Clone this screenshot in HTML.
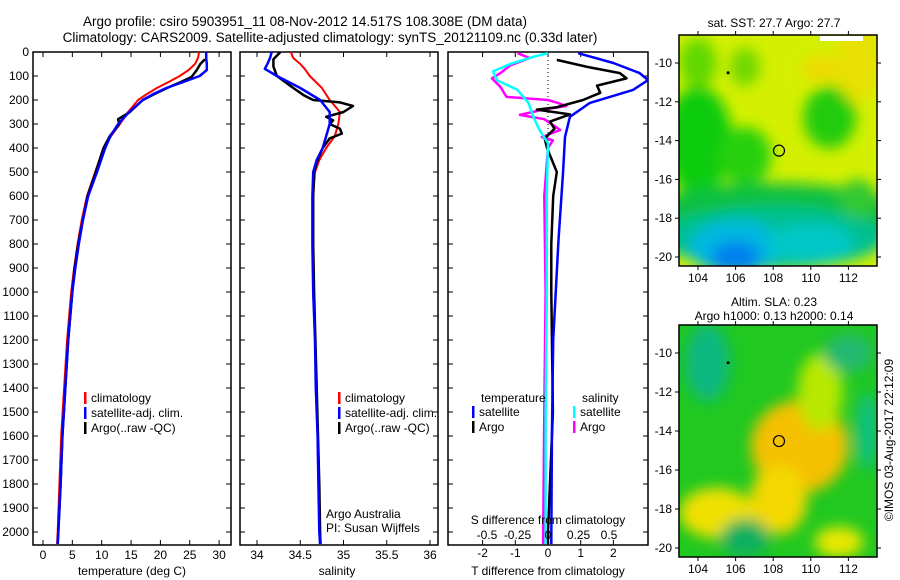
<!DOCTYPE html>
<html><head><meta charset="utf-8">
<style>
html,body{margin:0;padding:0;background:#fff;}
svg{display:block;font-family:"Liberation Sans",sans-serif;}
text{font-size:12px;fill:#000;}
</style></head>
<body>
<svg id="chart" width="900" height="580" viewBox="0 0 900 580">
<defs>
<clipPath id="c1"><rect x="33" y="52" width="198" height="493"/></clipPath>
<clipPath id="c2"><rect x="240" y="52" width="198" height="493"/></clipPath>
<clipPath id="c3"><rect x="448" y="52" width="200" height="493"/></clipPath>
<clipPath id="cm1"><rect x="679" y="35" width="198" height="231"/></clipPath>
<clipPath id="cm2"><rect x="679" y="325" width="198" height="232"/></clipPath>
<filter id="bl" x="-20%" y="-20%" width="140%" height="140%"><feGaussianBlur stdDeviation="7"/></filter>
</defs>
<text x="305" y="26" text-anchor="middle" style="font-size:13.5px">Argo profile: csiro 5903951_11 08-Nov-2012 14.517S 108.308E (DM data)</text>
<text x="330" y="42" text-anchor="middle" style="font-size:13.5px">Climatology: CARS2009. Satellite-adjusted climatology: synTS_20121109.nc (0.33d later)</text>
<g id="g1"></g>
<g id="g2"></g>
<g id="g3"></g>
<g id="m1"></g>
<g id="m2"></g>
<text transform="translate(893,440) rotate(-90)" text-anchor="middle">©IMOS 03-Aug-2017 22:12:09</text>
</svg>
<script>
// ---- data ----
const depthT = [0,25,50,75,100,125,150,175,200,250,300,350,400,500,600,700,800,900,1000,1200,1400,1600,1800,2000,2050];
const tempClim = [26.6,26.4,25.9,24.8,23.3,21.4,19.4,17.7,16.2,14.5,13.1,11.6,10.3,8.9,7.5,6.6,5.9,5.3,4.8,4.1,3.6,3.1,2.8,2.5,2.4];
const tempSat = [27.8,27.8,27.9,27.9,26.7,23.9,21.0,18.8,17.0,14.7,12.8,11.5,10.6,9.2,7.7,6.8,6.1,5.5,5.0,4.3,3.8,3.3,3.0,2.6,2.5];
const depthArgo = [30,50,75,104,125,145,175,200,250,280,300,350,400,500,600,700,800,900,1000,1200,1400,1600,1800,2000,2050];
const tempArgo = [27.6,26.8,26.2,25.3,23.5,21.6,19.0,17.0,14.8,12.8,13.0,11.4,10.3,9.0,7.6,6.8,6.0,5.4,5.0,4.3,3.8,3.3,3.0,2.6,2.5];

const depthS = [0,25,50,70,100,150,200,250,300,350,400,450,500,600,700,800,1000,1200,1400,1600,1800,2000,2050];
const salClim = [34.39,34.42,34.5,34.55,34.61,34.75,34.84,34.96,34.94,34.9,34.8,34.72,34.67,34.65,34.65,34.65,34.65,34.67,34.69,34.7,34.71,34.73,34.74];
const salSat = [34.17,34.15,34.12,34.09,34.23,34.5,34.73,34.84,34.84,34.8,34.76,34.69,34.65,34.64,34.64,34.64,34.65,34.67,34.68,34.7,34.71,34.72,34.73];
const depthSA = [0,30,60,100,150,180,200,210,225,250,270,285,300,320,340,360,400,450,500,600,800,1000,1400,1800,2000,2050];
const salArgo = [34.27,34.19,34.19,34.23,34.42,34.54,34.65,34.96,35.11,35.0,34.8,34.88,34.84,34.96,34.98,34.84,34.76,34.7,34.66,34.65,34.65,34.66,34.69,34.72,34.73,34.73];

const depthD = [5,46,88,117,158,212,270,354,505,783,1200,1604,2050];
const dTsat = [0.92,2.0,2.8,3.06,2.6,1.28,0.67,0.52,0.46,0.32,0.16,0.12,0.1];
const depthDA = [33,62,88,110,140,170,200,230,240,260,290,320,360,400,500,600,800,1000,1500,2000,2050];
const dTargo = [0.27,1.2,2.2,2.4,1.5,1.6,1.07,0.27,-0.34,0.67,0.06,0.2,-0.1,-0.03,0.27,0.16,0.1,0.1,0.15,0.0,0.0];
const depthDS = [5,20,50,81,117,158,212,270,325,380,600,1000,1500,2050];
const dSsat = [0,-0.12,-0.31,-0.45,-0.42,-0.25,-0.16,-0.12,-0.07,0,-0.01,-0.01,-0.02,-0.02];
const depthDSA = [5,25,56,88,110,145,187,200,212,225,240,262,280,325,354,368,400,600,1000,1500,2050];
const dSargo = [-0.25,-0.15,-0.31,-0.39,-0.46,-0.39,-0.34,0,0.08,0.15,-0.04,-0.23,-0.03,0.1,-0.05,0.04,0,-0.03,-0.02,-0.03,-0.04];

const depthTicks = [0,100,200,300,400,500,600,700,800,900,1000,1100,1200,1300,1400,1500,1600,1700,1800,1900,2000];
const tempTicks = [0,5,10,15,20,25,30];
const salTicks = [34,34.5,35,35.5,36];
const salTickLabels = ["34","34.5","35","35.5","36"];
const dtTicks = [-2,-1,0,1,2];
const dsTicks = [-0.5,-0.25,0,0.25,0.5];
const lonTicks = [104,106,108,110,112];
const latTicks = [-10,-12,-14,-16,-18,-20];

// ---- axes ----
const NS="http://www.w3.org/2000/svg";
const yD = d => 52 + 0.24*d;
const xT = t => 43 + 5.87*t;
const xS = s => 257 + 86.5*(s-34);
const xDT = v => 548 + 32.7*v;
const xDS = v => 548 + 122*v;
function el(parent, tag, attrs, txt){const e=document.createElementNS(NS,tag);for(const k in attrs)e.setAttribute(k,attrs[k]);if(txt!==undefined)e.textContent=txt;parent.appendChild(e);return e;}
function line(g, xs, ds, fx, color, w, clip, name){
  const pts = xs.map((v,i)=>fx(v).toFixed(1)+","+yD(ds[i]).toFixed(1)).join(" ");
  const p = el(g,"polyline",{points:pts,fill:"none",stroke:color,"stroke-width":w,"clip-path":"url(#"+clip+")","stroke-linejoin":"round"});
  
  
}
function frame(g,x,w,name){
  const r=el(g,"rect",{x:x,y:52,width:w,height:493,fill:"none",stroke:"#000","stroke-width":1.5});
  
  
}
function vticks(g,xs,fx){xs.forEach(v=>{const x=fx(v);el(g,"line",{x1:x,y1:52,x2:x,y2:57,stroke:"#000"});el(g,"line",{x1:x,y1:545,x2:x,y2:540,stroke:"#000"});});}

const g1=document.getElementById("g1"),g2=document.getElementById("g2"),g3=document.getElementById("g3");
// panel 1
frame(g1,33,198,"temperature-frame");
depthTicks.forEach(d=>{const y=yD(d);el(g1,"line",{x1:33,y1:y,x2:38,y2:y,stroke:"#000"});el(g1,"line",{x1:231,y1:y,x2:226,y2:y,stroke:"#000"});
  const t=el(g1,"text",{x:29,y:y+4,"text-anchor":"end"},String(d));
  
  });
vticks(g1,tempTicks,xT);
tempTicks.forEach(v=>{const t=el(g1,"text",{x:xT(v),y:559,"text-anchor":"middle"},String(v));
  
  });
let t1=el(g1,"text",{x:132,y:575,"text-anchor":"middle"},"temperature (deg C)");


line(g1,tempClim,depthT,xT,"#f00",2,"c1","temperature-climatology-line");
line(g1,tempArgo,depthArgo,xT,"#000",2.5,"c1","temperature-argo-line");
line(g1,tempSat,depthT,xT,"#00f",2.5,"c1","temperature-satellite-line");
// panel 2
frame(g2,240,198,"salinity-frame");
depthTicks.forEach(d=>{const y=yD(d);el(g2,"line",{x1:240,y1:y,x2:245,y2:y,stroke:"#000"});el(g2,"line",{x1:438,y1:y,x2:433,y2:y,stroke:"#000"});});
vticks(g2,salTicks,xS);
salTicks.forEach((v,i)=>{const t=el(g2,"text",{x:xS(v),y:559,"text-anchor":"middle"},salTickLabels[i]);
  
  });
let t2=el(g2,"text",{x:337,y:575,"text-anchor":"middle"},"salinity");


line(g2,salClim,depthS,xS,"#f00",2,"c2","salinity-climatology-line");
line(g2,salArgo,depthSA,xS,"#000",2.5,"c2","salinity-argo-line");
line(g2,salSat,depthS,xS,"#00f",2.5,"c2","salinity-satellite-line");
// panel 3
frame(g3,448,200,"difference-frame");
depthTicks.forEach(d=>{const y=yD(d);el(g3,"line",{x1:448,y1:y,x2:453,y2:y,stroke:"#000"});el(g3,"line",{x1:648,y1:y,x2:643,y2:y,stroke:"#000"});});
vticks(g3,dtTicks,xDT);
el(g3,"line",{x1:548,y1:52,x2:548,y2:180,stroke:"#000","stroke-dasharray":"1,3"});
line(g3,dSargo,depthDSA,xDS,"#f0f",2.5,"c3","s-diff-argo-line");
line(g3,dTargo,depthDA,xDT,"#000",2.5,"c3","t-diff-argo-line");
line(g3,dTsat,depthD,xDT,"#00f",2.5,"c3","t-diff-satellite-line");
line(g3,dSsat,depthDS,xDS,"#0ff",2.5,"c3","s-diff-satellite-line");
dtTicks.forEach(v=>{const t=el(g3,"text",{x:xDT(v),y:557,"text-anchor":"middle"},String(v));
  
  });
dsTicks.forEach(v=>{const t=el(g3,"text",{x:xDS(v),y:539,"text-anchor":"middle"},String(v));
  
  });
let t3=el(g3,"text",{x:548,y:524,"text-anchor":"middle"},"S difference from climatology");


let t4=el(g3,"text",{x:548,y:575,"text-anchor":"middle"},"T difference from climatology");



// legends
function leg(g,x,y,color,label){
  el(g,"rect",{x:x,y:y-10,width:2.5,height:12,fill:color});
  const t=el(g,"text",{x:x+7,y:y},label);
  
  
}
leg(g1,84,402,"#f00","climatology");
leg(g1,84,417,"#00f","satellite-adj. clim.");
leg(g1,84,432,"#000","Argo(..raw -QC)");
leg(g2,338,402,"#f00","climatology");
leg(g2,338,417,"#00f","satellite-adj. clim.");
leg(g2,338,432,"#000","Argo(..raw -QC)");
let lt=el(g3,"text",{x:481,y:402},"temperature");
let ls=el(g3,"text",{x:582,y:402},"salinity");
leg(g3,472,416,"#00f","satellite");
leg(g3,472,431,"#000","Argo");
leg(g3,573,416,"#0ff","satellite");
leg(g3,573,431,"#f0f","Argo");
let a1=el(g2,"text",{x:326,y:518},"Argo Australia");
let a2=el(g2,"text",{x:326,y:532},"PI: Susan Wijffels");

// maps
function map(gid,y0,h,yLat10,yLat20,clip,blobs,base,title1,title2){
  const g=document.getElementById(gid);
  const xL=lon=>698+(lon-104)*18.8;
  const yL=lat=>yLat10+(-10-lat)*(yLat20-yLat10)/10;
  const bg=el(g,"g",{"clip-path":"url(#"+clip+")"});
  el(bg,"rect",{x:679,y:y0,width:198,height:h,fill:base});
  const bl=el(bg,"g",{filter:"url(#bl)"});
  blobs.forEach(b=>el(bl,"ellipse",{cx:xL(b[0]),cy:yL(b[1]),rx:b[2]*18.8,ry:b[3]*19.4,fill:b[4]}));
  el(g,"rect",{x:679,y:y0,width:198,height:h,fill:"none",stroke:"#000","stroke-width":1.5});
  lonTicks.forEach(v=>{const x=xL(v);el(g,"line",{x1:x,y1:y0,x2:x,y2:y0-4,stroke:"#000"});el(g,"line",{x1:x,y1:y0+h,x2:x,y2:y0+h+4,stroke:"#000"});
    const t=el(g,"text",{x:x,y:y0+h+16,"text-anchor":"middle"},String(v));});
  latTicks.forEach(v=>{const y=yL(v);el(g,"line",{x1:679,y1:y,x2:675,y2:y,stroke:"#000"});el(g,"line",{x1:877,y1:y,x2:881,y2:y,stroke:"#000"});
    const t=el(g,"text",{x:672,y:y+4,"text-anchor":"end"},String(v));});
  const c=el(g,"circle",{cx:xL(108.308),cy:yL(-14.517),r:5.5,fill:"none",stroke:"#000","stroke-width":1.2});
  
  el(g,"circle",{cx:xL(105.6),cy:yL(-10.5),r:1.5,fill:"#000"});
  if(title1){const t=el(g,"text",{x:774,y:y0-(title2?19:8),"text-anchor":"middle"},title1);}
  if(title2){const t=el(g,"text",{x:774,y:y0-5,"text-anchor":"middle"},title2);}
}
map("m1",35,231,63,257,"cm1",[
  [104,-14,1.8,2.8,"#10cc10"],[106.5,-14.8,1.4,1.5,"#28d010"],[104,-10,1.0,1.3,"#60d800"],[106.5,-10.2,0.8,1,"#70d800"],
  [111,-12.8,1.4,1.6,"#20cc10"],[112.5,-10,1.2,2,"#e8e000"],[110.5,-10.3,1,0.6,"#f0d800"],
  [108,-17.8,7,1.6,"#10c040"],[108,-19,6,1.6,"#00c090"],[106,-19.5,2.5,1.4,"#00b8e0"],[106,-20,1.3,0.8,"#0080f0"],[110,-19.3,2.3,1,"#00c8c8"],[112.5,-17,1,1,"#30c830"]
],"#d4f000","sat. SST: 27.7 Argo: 27.7",null);
el(document.getElementById("m1"),"rect",{x:820,y:36,width:43,height:5,fill:"#fff"});
map("m2",325,232,353,548,"cm2",[
  [109.5,-14.8,1.6,1.6,"#ff9800"],[109.4,-14.8,2.6,2.4,"#f4c000"],[110.5,-12,1.2,2,"#b8e800"],
  [105,-18.2,2,1.3,"#f0e000"],[108.3,-17.5,1.5,1.8,"#f4d800"],[111.5,-19.7,1.3,0.8,"#e8e800"],
  [104.5,-10.5,1.2,2,"#10b880"],[113,-14,0.6,2,"#10c080"],[106.5,-19.5,1.3,1,"#10b060"],[112,-10,1.3,1,"#20b870"]
],"#20c820","Altim. SLA: 0.23","Argo h1000: 0.13 h2000: 0.14");
</script>
</body></html>
